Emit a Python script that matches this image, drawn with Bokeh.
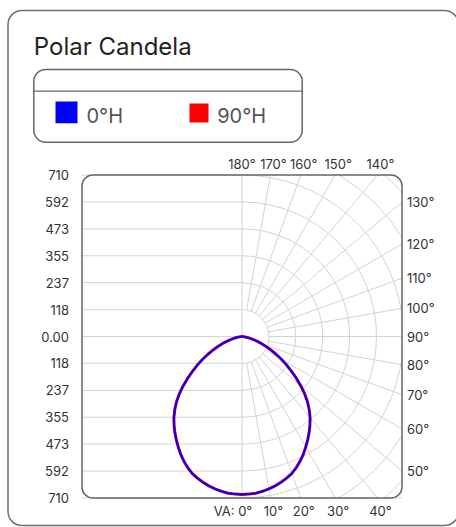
import math
from bokeh.plotting import figure
from bokeh.models import Range1d
from bokeh.core.properties import value
from bokeh.embed import file_html
from bokeh.resources import INLINE

# ---------------- data ----------------
title_text = "Polar Candela"
series_names = ["0°H", "90°H"]
series_colors = ["#0000ff", "#ff0000"]

va_deg = [0, 2.5, 5, 7.5, 10, 12.5, 15, 17.5, 20, 22.5, 25, 27.5, 30, 32.5, 35, 37.5,
          40, 42.5, 45, 47.5, 50, 52.5, 55, 57.5, 60, 62.5, 65, 67.5, 70, 72.5, 75,
          77.5, 80, 82.5, 85, 87.5, 90]
cd_0H = [695, 694, 692, 687, 681, 673, 664, 653, 641, 624, 605, 584, 561, 538, 515, 491,
         466, 438, 408, 374, 338, 301, 265, 232, 200, 169, 140, 115, 92, 71, 52,
         37, 24, 14, 7, 2, 0]
cd_90H = [695, 694, 692, 687, 681, 673, 664, 653, 641, 624, 605, 584, 561, 538, 515, 491,
          466, 438, 408, 374, 338, 301, 265, 232, 200, 169, 140, 115, 92, 71, 52,
          37, 24, 14, 7, 2, 0]

cd_max = 710
cd_tick_values = [710, 592, 473, 355, 237, 118, 0, -118, -237, -355, -473, -592, -710]
cd_tick_labels = ["710", "592", "473", "355", "237", "118", "0.00",
                  "118", "237", "355", "473", "592", "710"]
ring_values = [118.33, 236.67, 355, 473.33, 591.67, 710, 828.33, 946.67]

va_grid_deg = [10, 20, 30, 40, 50, 60, 70, 80, 90, 100, 110, 120, 130, 140, 150, 160, 170]
va_bottom = [0, 10, 20, 30, 40]
va_bottom_labels = ["VA: 0°", "10°", "20°", "30°", "40°"]
va_right = [50, 60, 70, 80, 90, 100, 110, 120, 130]
va_right_labels = ["50°", "60°", "70°", "80°", "90°", "100°", "110°", "120°", "130°"]
va_top = [140, 150, 160, 170, 180]
va_top_labels = ["140°", "150°", "160°", "170°", "180°"]

# ---------------- geometry (page pixels -> candela units) ----------------
FONT = value("Inter")
W, H = 456, 527
CX, CY = 241.5, 336.0          # polar centre on the page
S = 161.4 / cd_max             # pixels per candela
XR, YR = 160.0 / S, cd_max     # half extents of the polar box
GRID = "#d3d3d3"
DARK = "#666666"


def X(px):
    return (px - CX) / S


def Y(py):
    return (CY - py) / S


p = figure(frame_width=W, frame_height=H, min_border=0,
           x_range=Range1d(X(0), X(W)), y_range=Range1d(Y(H), Y(0)),
           x_axis_type=None, y_axis_type=None,
           output_backend="svg", toolbar_location=None,
           background_fill_color="white", border_fill_color="white",
           outline_line_color=None)
p.title.text = ""
p.grid.visible = False

# ---------------- grid ----------------
p.segment(x0=[-XR] * len(cd_tick_values), y0=cd_tick_values,
          x1=[0] * len(cd_tick_values), y1=cd_tick_values,
          line_color=GRID, line_width=1)
p.segment(x0=[0, 0], y0=[-YR, -YR], x1=[0, XR], y1=[YR, -YR],
          line_color=GRID, line_width=1)

arc_r, arc_s, arc_e = [], [], []
for r in ring_values:
    px_ = math.acos(min(1.0, XR / r)) if r > XR else 0.0
    py_ = math.asin(YR / r) if r > YR else math.pi / 2
    if px_ == 0.0:
        arc_r.append(r); arc_s.append(-py_); arc_e.append(py_)
    elif px_ < py_:
        arc_r += [r, r]; arc_s += [px_, -py_]; arc_e += [py_, -px_]
p.arc(x=[0] * len(arc_r), y=[0] * len(arc_r), radius=arc_r,
      start_angle=arc_s, end_angle=arc_e, direction="anticlock",
      line_color=GRID, line_width=1)

r0 = ring_values[0]
rx0, ry0, rx1, ry1 = [], [], [], []
for a in va_grid_deg:
    t = math.radians(a)
    dx, dy = math.sin(t), -math.cos(t)
    lim = min(XR / abs(dx) if abs(dx) > 1e-9 else 1e9,
              YR / abs(dy) if abs(dy) > 1e-9 else 1e9)
    rx0.append(r0 * dx); ry0.append(r0 * dy)
    rx1.append(lim * dx); ry1.append(lim * dy)
p.segment(x0=rx0, y0=ry0, x1=rx1, y1=ry1, line_color=GRID, line_width=1)


# ---------------- candela curves ----------------
def loop(vals):
    xs, ys = [], []
    for a, v in zip(reversed(va_deg), reversed(vals)):
        t = math.radians(a)
        xs.append(-v * math.sin(t)); ys.append(-v * math.cos(t))
    for a, v in zip(va_deg, vals):
        t = math.radians(a)
        xs.append(v * math.sin(t)); ys.append(-v * math.cos(t))
    return xs, ys


x90, y90 = loop(cd_90H)
x0, y0 = loop(cd_0H)
p.line(x90, y90, line_color=series_colors[1], line_width=3)
p.line(x0, y0, line_color=series_colors[0], line_width=2)

# polar box border
p.quad(left=[-XR], right=[XR], top=[YR], bottom=[-YR], border_radius=11,
       fill_color=None, line_color=DARK, line_width=1.5)

# ---------------- tick labels ----------------
TK = dict(text_font=FONT, text_font_size=value("13px"), text_color="#333333",
          text_baseline="middle")
p.text(x=[X(68.5)] * len(cd_tick_values), y=cd_tick_values, text=cd_tick_labels,
       text_align="right", **TK)

off = 3 / S
bx = [YR * math.tan(math.radians(a)) + (off if a else -9 / S) for a in va_bottom]
p.text(x=bx, y=[Y(510.5)] * len(bx), text=va_bottom_labels, text_align="center", **TK)

tx = [YR * math.tan(math.radians(180 - a)) + (off if a != 180 else 0) for a in va_top]
p.text(x=tx, y=[Y(163.8)] * len(tx), text=va_top_labels, text_align="center", **TK)

ry = [-XR / math.tan(math.radians(a)) for a in va_right]
p.text(x=[X(406.5)] * len(ry), y=ry, text=va_right_labels, text_align="left", **TK)

# ---------------- card, title, legend ----------------
p.quad(left=[X(7.5)], right=[X(458)], top=[Y(10)], bottom=[Y(525)], border_radius=14,
       fill_color=None, line_color="#6e6e6e", line_width=1.5)
p.text(x=[X(33.3)], y=[Y(45.7)], text=[title_text], text_font=FONT,
       text_font_size=value("24px"), text_color="#222222",
       text_align="left", text_baseline="middle")

p.quad(left=[X(33.3)], right=[X(301.7)], top=[Y(69)], bottom=[Y(141.7)], border_radius=12,
       fill_color=None, line_color=DARK, line_width=1.5)
p.segment(x0=[X(33.3)], y0=[Y(90.7)], x1=[X(301.7)], y1=[Y(90.7)],
          line_color=DARK, line_width=1.2)
sq_l, sq_t, sq_r, sq_b = [55, 189], [101, 103], [77, 208], [122.7, 122]
p.quad(left=[X(v) for v in sq_l], right=[X(v) for v in sq_r],
       top=[Y(v) for v in sq_t], bottom=[Y(v) for v in sq_b],
       fill_color=series_colors, line_color=None)
p.text(x=[X(86), X(216.7)], y=[Y(115.2)] * 2, text=series_names, text_font=FONT,
       text_font_size=value("20px"), text_color="#555555",
       text_align="left", text_baseline="middle")

open("out.html", "w").write(file_html(p, INLINE))
